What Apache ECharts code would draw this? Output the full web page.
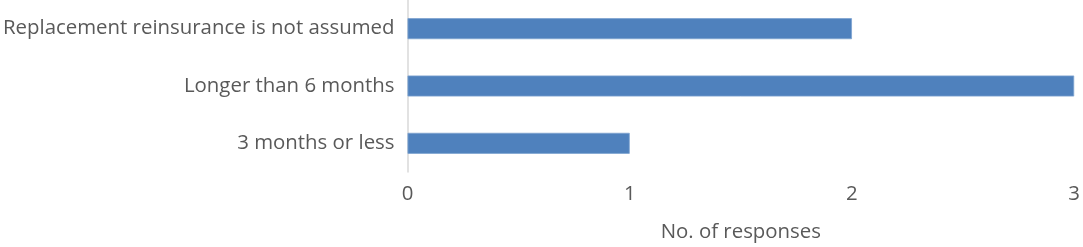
<!DOCTYPE html>
<html>
<head>
<meta charset="utf-8">
<script src="https://cdn.jsdelivr.net/npm/echarts@6/dist/echarts.min.js"></script>
<style>html,body{margin:0;padding:0;background:#fff;}#c{width:1083px;height:247px;}</style>
</head>
<body>
<div id="c"></div>
<script>
const categories = ["3 months or less", "Longer than 6 months", "Replacement reinsurance is not assumed"];
const responses = [1, 3, 2];
const xTicks = [0, 1, 2, 3];
const axisName = "No. of responses";

const FONT = "Open Sans";
const FS = 20.4;
const chart = echarts.init(document.getElementById('c'), null, {renderer: 'canvas'});
chart.setOption({
  animation: false,
  grid: {left: 406, right: 7, top: 0, bottom: 73, containLabel: false},
  xAxis: {
    type: 'value', min: xTicks[0], max: xTicks[xTicks.length - 1], interval: 1,
    name: axisName, nameLocation: 'middle', nameGap: 50,
    nameTextStyle: {color: '#595959', fontFamily: FONT, fontSize: FS},
    axisLine: {show: false}, axisTick: {show: false}, splitLine: {show: false},
    axisLabel: {color: '#595959', fontFamily: FONT, fontSize: FS, margin: 12}
  },
  yAxis: {
    type: 'category', data: categories,
    axisLine: {show: true, lineStyle: {color: '#d9d9d9', width: 1.5}},
    axisTick: {show: false},
    axisLabel: {color: '#595959', fontFamily: FONT, fontSize: FS, margin: 13}
  },
  series: [{
    type: 'bar', data: responses, barWidth: 21,
    itemStyle: {color: '#4f81bd', borderColor: '#7ea3d1', borderWidth: 0.8}
  }]
});
</script>
</body>
</html>
